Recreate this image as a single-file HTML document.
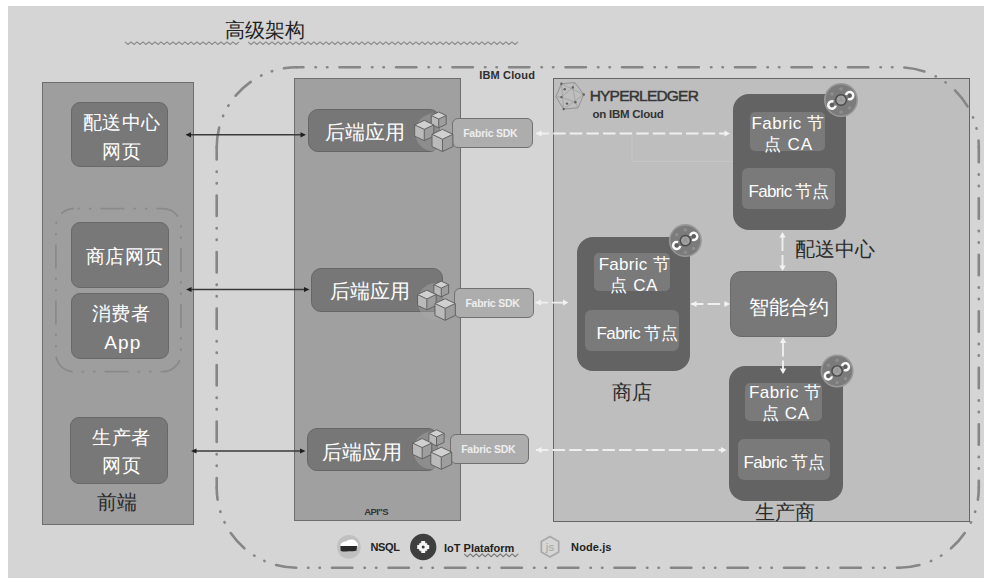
<!DOCTYPE html>
<html><head><meta charset="utf-8">
<style>
*{margin:0;padding:0;box-sizing:border-box}
html,body{width:994px;height:585px;overflow:hidden;background:#fff;font-family:"Liberation Sans",sans-serif}
.a{position:absolute}
.t{position:absolute;white-space:nowrap;line-height:1}
svg{position:absolute;left:0;top:0}
</style></head><body>

<div class="a" style="left:7.5px;top:5.5px;width:976.7px;height:572.3px;background:#d5d5d5;border:0px solid #d5d5d5;border-radius:0px"></div>
<div class="a" style="left:42px;top:82px;width:152px;height:442.5px;background:#9e9e9e;border:1.8px solid #6e6e6e;border-radius:0px"></div>
<div class="a" style="left:294px;top:78px;width:167px;height:443px;background:#a0a0a0;border:1.8px solid #6e6e6e;border-radius:0px"></div>
<div class="a" style="left:553.3px;top:78px;width:416.70000000000005px;height:443.5px;background:#bebebe;border:1.5px solid #666666;border-radius:0px"></div>
<div class="a" style="left:70.5px;top:101.6px;width:97.1px;height:65.9px;background:#787878;border:1.6px solid #686868;border-radius:9px"></div>
<div class="a" style="left:71px;top:222px;width:97.5px;height:66px;background:#787878;border:1.6px solid #686868;border-radius:9px"></div>
<div class="a" style="left:71px;top:293px;width:97.5px;height:66px;background:#787878;border:1.6px solid #686868;border-radius:9px"></div>
<div class="a" style="left:70px;top:416.6px;width:97.6px;height:67.39999999999998px;background:#787878;border:1.6px solid #686868;border-radius:9px"></div>
<div class="a" style="left:307.5px;top:108.6px;width:132.5px;height:43.80000000000001px;background:#777777;border:1.3px solid #666666;border-radius:10px"></div>
<div class="a" style="left:311px;top:268.2px;width:132px;height:43.60000000000002px;background:#777777;border:1.3px solid #666666;border-radius:10px"></div>
<div class="a" style="left:306.5px;top:427.5px;width:131.5px;height:43.10000000000002px;background:#777777;border:1.3px solid #666666;border-radius:10px"></div>
<svg width="994" height="585" viewBox="0 0 994 585"><circle cx="434.1" cy="132.5" r="19" fill="#a8a8a8" opacity="0.45"/><circle cx="436.6" cy="301.8" r="19" fill="#a8a8a8" opacity="0.45"/><circle cx="432.3" cy="450.5" r="19" fill="#a8a8a8" opacity="0.45"/></svg>
<div class="a" style="left:452px;top:118.2px;width:80.70000000000005px;height:29.39999999999999px;background:#adadad;border:1.5px solid #717171;border-radius:6px"></div>
<div class="a" style="left:454.4px;top:288px;width:79.60000000000002px;height:29.600000000000023px;background:#adadad;border:1.5px solid #717171;border-radius:6px"></div>
<div class="a" style="left:449.7px;top:434.4px;width:79.30000000000001px;height:30.0px;background:#adadad;border:1.5px solid #717171;border-radius:6px"></div>
<div class="a" style="left:732.7px;top:94.3px;width:113.29999999999995px;height:135.7px;background:#636363;border:0px solid #636363;border-radius:16px"></div>
<div class="a" style="left:576.5px;top:236.8px;width:113.79999999999995px;height:134.0px;background:#636363;border:0px solid #636363;border-radius:16px"></div>
<div class="a" style="left:728.6px;top:366px;width:114.39999999999998px;height:134.8px;background:#636363;border:0px solid #636363;border-radius:16px"></div>
<div class="a" style="left:749.7px;top:112.1px;width:75.19999999999993px;height:38.900000000000006px;background:#7a7a7a;border:0px solid #7a7a7a;border-radius:5px"></div>
<div class="a" style="left:594.4px;top:252.5px;width:75.5px;height:38.5px;background:#7a7a7a;border:0px solid #7a7a7a;border-radius:5px"></div>
<div class="a" style="left:745.4px;top:382.9px;width:76.70000000000005px;height:38.10000000000002px;background:#7a7a7a;border:0px solid #7a7a7a;border-radius:5px"></div>
<div class="a" style="left:741.6px;top:168px;width:93.10000000000002px;height:41.400000000000006px;background:#7a7a7a;border:0px solid #7a7a7a;border-radius:6px"></div>
<div class="a" style="left:585.3px;top:309.9px;width:94.20000000000005px;height:40.900000000000034px;background:#7a7a7a;border:0px solid #7a7a7a;border-radius:6px"></div>
<div class="a" style="left:737.5px;top:438.9px;width:92.20000000000005px;height:41.400000000000034px;background:#7a7a7a;border:0px solid #7a7a7a;border-radius:6px"></div>
<div class="a" style="left:730.3px;top:270.6px;width:106.5px;height:66.39999999999998px;background:#787878;border:1.3px solid #6a6a6a;border-radius:11px"></div>
<svg width="994" height="585" viewBox="0 0 994 585"><path d="M296.7,67.3 L898.8,67.3" fill="none" stroke="#868686" stroke-width="2.6" stroke-linecap="round" stroke-dasharray="20.4 12.1 0.4 11.1 0.4 12.1" stroke-dashoffset="13.70"/>
<path d="M898.8,67.3 A80,80 0 0 1 978.8,147.3" fill="none" stroke="#868686" stroke-width="2.6" stroke-linecap="round" stroke-dasharray="20.4 12.1 0.4 11.1 0.4 12.1" stroke-dashoffset="50.80"/>
<path d="M978.8,147.3 L978.8,487.79999999999995" fill="none" stroke="#868686" stroke-width="2.6" stroke-linecap="round" stroke-dasharray="20.4 12.1 0.4 11.1 0.4 12.1" stroke-dashoffset="5.50"/>
<path d="M978.8,487.79999999999995 A80,80 0 0 1 898.8,567.8" fill="none" stroke="#868686" stroke-width="2.6" stroke-linecap="round" stroke-dasharray="20.4 12.1 0.4 11.1 0.4 12.1" stroke-dashoffset="8.40"/>
<path d="M898.8,567.8 L296.7,567.8" fill="none" stroke="#868686" stroke-width="2.6" stroke-linecap="round" stroke-dasharray="20.4 12.1 0.4 11.1 0.4 12.1" stroke-dashoffset="18.60"/>
<path d="M296.7,567.8 A80,80 0 0 1 216.7,487.79999999999995" fill="none" stroke="#868686" stroke-width="2.6" stroke-linecap="round" stroke-dasharray="20.4 12.1 0.4 11.1 0.4 12.1" stroke-dashoffset="-0.50"/>
<path d="M216.7,487.79999999999995 L216.7,147.3" fill="none" stroke="#868686" stroke-width="2.6" stroke-linecap="round" stroke-dasharray="20.4 12.1 0.4 11.1 0.4 12.1" stroke-dashoffset="10.70"/>
<path d="M216.7,147.3 A80,80 0 0 1 296.7,67.3" fill="none" stroke="#868686" stroke-width="2.6" stroke-linecap="round" stroke-dasharray="20.4 12.1 0.4 11.1 0.4 12.1" stroke-dashoffset="0.40"/>
<rect x="55.9" y="208.6" width="125" height="163" rx="18" fill="none" stroke="#8a8a8a" stroke-width="1.8" stroke-dasharray="24 9 2.5 9 2.5 9" stroke-dashoffset="29.5"/>
<path d="M125,41.9 L128.0,44.5 L131,41.9 L134.0,44.5 L137,41.9 L140.0,44.5 L143,41.9 L146.0,44.5 L149,41.9 L152.0,44.5 L155,41.9 L158.0,44.5 L161,41.9 L164.0,44.5 L167,41.9 L170.0,44.5 L173,41.9 L176.0,44.5 L179,41.9 L182.0,44.5 L185,41.9 L188.0,44.5 L191,41.9 L194.0,44.5 L197,41.9 L200.0,44.5 L203,41.9 L206.0,44.5 L209,41.9 L212.0,44.5 L215,41.9 L218.0,44.5 L221,41.9 L224.0,44.5 L227,41.9 L230.0,44.5 L233,41.9 L236.0,44.5 L239,41.9" fill="none" stroke="#8c8c8c" stroke-width="1.2" stroke-linejoin="round"/>
<path d="M248,41.9 L251.0,44.5 L254,41.9 L257.0,44.5 L260,41.9 L263.0,44.5 L266,41.9 L269.0,44.5 L272,41.9 L275.0,44.5 L278,41.9 L281.0,44.5 L284,41.9 L287.0,44.5 L290,41.9 L293.0,44.5 L296,41.9 L299.0,44.5 L302,41.9 L305.0,44.5 L308,41.9 L311.0,44.5 L314,41.9 L317.0,44.5 L320,41.9 L323.0,44.5 L326,41.9 L329.0,44.5 L332,41.9 L335.0,44.5 L338,41.9 L341.0,44.5 L344,41.9 L347.0,44.5 L350,41.9 L353.0,44.5 L356,41.9 L359.0,44.5 L362,41.9 L365.0,44.5 L368,41.9 L371.0,44.5 L374,41.9 L377.0,44.5 L380,41.9 L383.0,44.5 L386,41.9 L389.0,44.5 L392,41.9 L395.0,44.5 L398,41.9 L401.0,44.5 L404,41.9 L407.0,44.5 L410,41.9 L413.0,44.5 L416,41.9 L419.0,44.5 L422,41.9 L425.0,44.5 L428,41.9 L431.0,44.5 L434,41.9 L437.0,44.5 L440,41.9 L443.0,44.5 L446,41.9 L449.0,44.5 L452,41.9 L455.0,44.5 L458,41.9 L461.0,44.5 L464,41.9 L467.0,44.5 L470,41.9 L473.0,44.5 L476,41.9 L479.0,44.5 L482,41.9 L485.0,44.5 L488,41.9 L491.0,44.5 L494,41.9 L497.0,44.5 L500,41.9 L503.0,44.5 L506,41.9 L509.0,44.5 L512,41.9 L515.0,44.5 L518,41.9" fill="none" stroke="#8c8c8c" stroke-width="1.2" stroke-linejoin="round"/>
<path d="M464.2,553.9 L467.2,556.6999999999999 L470.2,553.9 L473.2,556.6999999999999 L476.2,553.9 L479.2,556.6999999999999 L482.2,553.9 L485.2,556.6999999999999 L488.2,553.9 L491.2,556.6999999999999 L494.2,553.9 L497.2,556.6999999999999 L500.2,553.9 L503.2,556.6999999999999 L506.2,553.9 L509.2,556.6999999999999 L512.2,553.9 L515.2,556.6999999999999 L518.2,553.9" fill="none" stroke="#7c7c7c" stroke-width="1.2" stroke-linejoin="round"/>
<line x1="189.5" y1="134.8" x2="302" y2="134.8" stroke="#3a3a3a" stroke-width="1.5"/><path d="M185.5,134.8 L191.0,132.20000000000002 L191.0,137.4Z" fill="#1e1e1e"/><path d="M306,134.8 L300.5,132.20000000000002 L300.5,137.4Z" fill="#1e1e1e"/>
<line x1="190" y1="289.5" x2="305.5" y2="289.5" stroke="#3a3a3a" stroke-width="1.5"/><path d="M186,289.5 L191.5,286.9 L191.5,292.1Z" fill="#1e1e1e"/><path d="M309.5,289.5 L304.0,286.9 L304.0,292.1Z" fill="#1e1e1e"/>
<line x1="195" y1="451" x2="301.5" y2="451" stroke="#3a3a3a" stroke-width="1.5"/><path d="M191,451 L196.5,448.4 L196.5,453.6Z" fill="#1e1e1e"/><path d="M305.5,451 L300.0,448.4 L300.0,453.6Z" fill="#1e1e1e"/>
<path d="M632,134 L632,161.5 L733,161.5" fill="none" stroke="#c6c6c6" stroke-width="1"/>
<line x1="536" y1="133.5" x2="726" y2="133.5" stroke="#efefef" stroke-width="1.9" stroke-dasharray="12.5 4.1" stroke-dashoffset="-0.6"/><path d="M730,133.5 L724.5,130.5 L724.5,136.5Z" fill="#f2f2f2"/><path d="M536,133.5 L541.5,130.5 L541.5,136.5Z" fill="#f2f2f2"/>
<line x1="535.5" y1="302.6" x2="564.5" y2="302.6" stroke="#efefef" stroke-width="1.9" stroke-dasharray="12.5 4.1" stroke-dashoffset="0"/><path d="M568.5,302.6 L563.0,299.6 L563.0,305.6Z" fill="#f2f2f2"/><path d="M535.5,302.6 L541.0,299.6 L541.0,305.6Z" fill="#f2f2f2"/>
<line x1="691" y1="304" x2="726" y2="304" stroke="#efefef" stroke-width="1.9" stroke-dasharray="12.5 4.1" stroke-dashoffset="0"/><path d="M730,304 L724.5,301 L724.5,307Z" fill="#f2f2f2"/><path d="M691,304 L696.5,301 L696.5,307Z" fill="#f2f2f2"/>
<line x1="536" y1="450" x2="722.5" y2="450" stroke="#efefef" stroke-width="1.9" stroke-dasharray="12.5 4.1" stroke-dashoffset="0"/><path d="M726.5,450 L721.0,447 L721.0,453Z" fill="#f2f2f2"/><path d="M536,450 L541.5,447 L541.5,453Z" fill="#f2f2f2"/>
<line x1="782.5" y1="235" x2="782.5" y2="268" stroke="#efefef" stroke-width="1.9" stroke-dasharray="16 4"/><path d="M782.5,232 L779.3,237.5 L785.7,237.5Z" fill="#f2f2f2"/><path d="M782.5,271 L779.3,265.5 L785.7,265.5Z" fill="#f2f2f2"/>
<line x1="783" y1="340.5" x2="783" y2="371" stroke="#efefef" stroke-width="1.9" stroke-dasharray="16 4"/><path d="M783,337.5 L779.8,343.0 L786.2,343.0Z" fill="#f2f2f2"/><path d="M783,374 L779.8,368.5 L786.2,368.5Z" fill="#f2f2f2"/>
<path d="M431.22,115.50 L438.70,119.02 L438.70,127.81 L431.22,124.30Z" fill="#bababa"/><path d="M438.70,119.02 L446.18,115.50 L446.18,124.30 L438.70,127.81Z" fill="#9e9e9e"/><path d="M438.70,111.99 L446.18,115.50 L438.70,119.02 L431.22,115.50Z" fill="#d0d0d0"/><path d="M431.22,115.50 L438.70,111.99 L446.18,115.50 L446.18,124.30 L438.70,127.81 L431.22,124.30Z M431.22,115.50 L438.70,119.02 L446.18,115.50 M438.70,119.02 L438.70,127.81" fill="none" stroke="#626262" stroke-width="1" stroke-linejoin="round"/><path d="M414.67,124.86 L424.25,129.37 L424.25,140.65 L414.67,136.14Z" fill="#bababa"/><path d="M424.25,129.37 L433.83,124.86 L433.83,136.14 L424.25,140.65Z" fill="#9e9e9e"/><path d="M424.25,120.35 L433.83,124.86 L424.25,129.37 L414.67,124.86Z" fill="#d0d0d0"/><path d="M414.67,124.86 L424.25,120.35 L433.83,124.86 L433.83,136.14 L424.25,140.65 L414.67,136.14Z M414.67,124.86 L424.25,129.37 L433.83,124.86 M424.25,129.37 L424.25,140.65" fill="none" stroke="#626262" stroke-width="1" stroke-linejoin="round"/><path d="M432.00,134.30 L442.45,139.22 L442.45,151.52 L432.00,146.60Z" fill="#bababa"/><path d="M442.45,139.22 L452.90,134.30 L452.90,146.60 L442.45,151.52Z" fill="#9e9e9e"/><path d="M442.45,129.38 L452.90,134.30 L442.45,139.22 L432.00,134.30Z" fill="#d0d0d0"/><path d="M432.00,134.30 L442.45,129.38 L452.90,134.30 L452.90,146.60 L442.45,151.52 L432.00,146.60Z M432.00,134.30 L442.45,139.22 L452.90,134.30 M442.45,139.22 L442.45,151.52" fill="none" stroke="#626262" stroke-width="1" stroke-linejoin="round"/>
<path d="M433.83,284.64 L441.25,288.13 L441.25,296.85 L433.83,293.36Z" fill="#bababa"/><path d="M441.25,288.13 L448.67,284.64 L448.67,293.36 L441.25,296.85Z" fill="#9e9e9e"/><path d="M441.25,281.15 L448.67,284.64 L441.25,288.13 L433.83,284.64Z" fill="#d0d0d0"/><path d="M433.83,284.64 L441.25,281.15 L448.67,284.64 L448.67,293.36 L441.25,296.85 L433.83,293.36Z M433.83,284.64 L441.25,288.13 L448.67,284.64 M441.25,288.13 L441.25,296.85" fill="none" stroke="#626262" stroke-width="1" stroke-linejoin="round"/><path d="M417.55,294.53 L426.85,298.91 L426.85,309.84 L417.55,305.47Z" fill="#bababa"/><path d="M426.85,298.91 L436.15,294.53 L436.15,305.47 L426.85,309.84Z" fill="#9e9e9e"/><path d="M426.85,290.16 L436.15,294.53 L426.85,298.91 L417.55,294.53Z" fill="#d0d0d0"/><path d="M417.55,294.53 L426.85,290.16 L436.15,294.53 L436.15,305.47 L426.85,309.84 L417.55,305.47Z M417.55,294.53 L426.85,298.91 L436.15,294.53 M426.85,298.91 L426.85,309.84" fill="none" stroke="#626262" stroke-width="1" stroke-linejoin="round"/><path d="M434.97,303.51 L445.15,308.30 L445.15,320.28 L434.97,315.49Z" fill="#bababa"/><path d="M445.15,308.30 L455.33,303.51 L455.33,315.49 L445.15,320.28Z" fill="#9e9e9e"/><path d="M445.15,298.72 L455.33,303.51 L445.15,308.30 L434.97,303.51Z" fill="#d0d0d0"/><path d="M434.97,303.51 L445.15,298.72 L455.33,303.51 L455.33,315.49 L445.15,320.28 L434.97,315.49Z M434.97,303.51 L445.15,308.30 L455.33,303.51 M445.15,308.30 L445.15,320.28" fill="none" stroke="#626262" stroke-width="1" stroke-linejoin="round"/>
<path d="M428.89,433.38 L436.50,436.96 L436.50,445.90 L428.89,442.32Z" fill="#bababa"/><path d="M436.50,436.96 L444.11,433.38 L444.11,442.32 L436.50,445.90Z" fill="#9e9e9e"/><path d="M436.50,429.80 L444.11,433.38 L436.50,436.96 L428.89,433.38Z" fill="#d0d0d0"/><path d="M428.89,433.38 L436.50,429.80 L444.11,433.38 L444.11,442.32 L436.50,445.90 L428.89,442.32Z M428.89,433.38 L436.50,436.96 L444.11,433.38 M436.50,436.96 L436.50,445.90" fill="none" stroke="#626262" stroke-width="1" stroke-linejoin="round"/><path d="M412.56,443.06 L422.15,447.57 L422.15,458.86 L412.56,454.34Z" fill="#bababa"/><path d="M422.15,447.57 L431.74,443.06 L431.74,454.34 L422.15,458.86Z" fill="#9e9e9e"/><path d="M422.15,438.54 L431.74,443.06 L422.15,447.57 L412.56,443.06Z" fill="#d0d0d0"/><path d="M412.56,443.06 L422.15,438.54 L431.74,443.06 L431.74,454.34 L422.15,458.86 L412.56,454.34Z M412.56,443.06 L422.15,447.57 L431.74,443.06 M422.15,447.57 L422.15,458.86" fill="none" stroke="#626262" stroke-width="1" stroke-linejoin="round"/><path d="M430.80,452.10 L441.25,457.02 L441.25,469.32 L430.80,464.40Z" fill="#bababa"/><path d="M441.25,457.02 L451.70,452.10 L451.70,464.40 L441.25,469.32Z" fill="#9e9e9e"/><path d="M441.25,447.18 L451.70,452.10 L441.25,457.02 L430.80,452.10Z" fill="#d0d0d0"/><path d="M430.80,452.10 L441.25,447.18 L451.70,452.10 L451.70,464.40 L441.25,469.32 L430.80,464.40Z M430.80,452.10 L441.25,457.02 L451.70,452.10 M441.25,457.02 L441.25,469.32" fill="none" stroke="#626262" stroke-width="1" stroke-linejoin="round"/>
<circle cx="841" cy="100" r="17" fill="#989898"/><circle cx="841" cy="100" r="15.40" fill="#7b7b7b"/><circle cx="841.0" cy="89.0" r="1.80" fill="#8e8e8e"/><circle cx="832.0" cy="94.0" r="1.80" fill="#8e8e8e"/><circle cx="849.5" cy="108.0" r="1.80" fill="#8e8e8e"/><circle cx="841.0" cy="112.0" r="1.80" fill="#8e8e8e"/><circle cx="841" cy="100" r="5.30" fill="#a0a0a0" stroke="#4a4a4a" stroke-width="1.50"/><path d="M841,100 L841,97.00 M841,100 L838.40,101.50 M841,100 L843.60,101.50" stroke="#8a8a8a" stroke-width="0.80"/><circle cx="849.6" cy="95.6" r="2.04" fill="#5c5c5c"/><path d="M845.97,94.90 A3.70,3.70 0 1 1 848.04,98.96" fill="none" stroke="#fafafa" stroke-width="2.50"/><circle cx="832.0" cy="105.0" r="2.04" fill="#5c5c5c"/><path d="M835.65,105.58 A3.70,3.70 0 1 1 833.44,101.59" fill="none" stroke="#fafafa" stroke-width="2.50"/>
<circle cx="685.4" cy="240.6" r="16.5" fill="#989898"/><circle cx="685.4" cy="240.6" r="14.95" fill="#7b7b7b"/><circle cx="685.4" cy="229.9" r="1.75" fill="#8e8e8e"/><circle cx="676.7" cy="234.8" r="1.75" fill="#8e8e8e"/><circle cx="693.6" cy="248.4" r="1.75" fill="#8e8e8e"/><circle cx="685.4" cy="252.2" r="1.75" fill="#8e8e8e"/><circle cx="685.4" cy="240.6" r="5.14" fill="#a0a0a0" stroke="#4a4a4a" stroke-width="1.46"/><path d="M685.4,240.6 L685.4,237.69 M685.4,240.6 L682.88,242.06 M685.4,240.6 L687.92,242.06" stroke="#8a8a8a" stroke-width="0.78"/><circle cx="693.7" cy="236.3" r="1.98" fill="#5c5c5c"/><path d="M690.22,235.65 A3.59,3.59 0 1 1 692.23,239.59" fill="none" stroke="#fafafa" stroke-width="2.43"/><circle cx="676.7" cy="245.5" r="1.98" fill="#5c5c5c"/><path d="M680.21,246.01 A3.59,3.59 0 1 1 678.06,242.15" fill="none" stroke="#fafafa" stroke-width="2.43"/>
<circle cx="837.1" cy="371" r="16.5" fill="#989898"/><circle cx="837.1" cy="371" r="14.95" fill="#7b7b7b"/><circle cx="837.1" cy="360.3" r="1.75" fill="#8e8e8e"/><circle cx="828.4" cy="365.2" r="1.75" fill="#8e8e8e"/><circle cx="845.4" cy="378.8" r="1.75" fill="#8e8e8e"/><circle cx="837.1" cy="382.6" r="1.75" fill="#8e8e8e"/><circle cx="837.1" cy="371" r="5.14" fill="#a0a0a0" stroke="#4a4a4a" stroke-width="1.46"/><path d="M837.1,371 L837.1,368.09 M837.1,371 L834.58,372.46 M837.1,371 L839.62,372.46" stroke="#8a8a8a" stroke-width="0.78"/><circle cx="845.4" cy="366.7" r="1.98" fill="#5c5c5c"/><path d="M841.92,366.05 A3.59,3.59 0 1 1 843.93,369.99" fill="none" stroke="#fafafa" stroke-width="2.43"/><circle cx="828.4" cy="375.9" r="1.98" fill="#5c5c5c"/><path d="M831.91,376.41 A3.59,3.59 0 1 1 829.76,372.55" fill="none" stroke="#fafafa" stroke-width="2.43"/>
<polygon points="561.4,83.8 574.7,82.5 583.8,94.5 578.0,107.8 563.7,109.1 555.9,96.8" fill="none" stroke="#8c8c8c" stroke-width="0.9"/>
<polygon points="561.4,83.8 583.8,94.5 563.7,109.1" fill="none" stroke="#999" stroke-width="0.7"/>
<polygon points="572.8,87.4 575.4,102.3 561.4,97.1" fill="none" stroke="#999" stroke-width="0.7"/>
<path d="M574.7,82.5 L572.8,87.4 M578,107.8 L575.4,102.3 M555.9,96.8 L561.4,97.1" stroke="#999" stroke-width="0.7"/>
<circle cx="561.4" cy="83.8" r="1.2" fill="#5e5e5e"/>
<circle cx="583.8" cy="94.5" r="1.2" fill="#5e5e5e"/>
<circle cx="563.7" cy="109.1" r="1.2" fill="#5e5e5e"/>
<circle cx="572.8" cy="87.4" r="1.2" fill="#5e5e5e"/>
<circle cx="575.4" cy="102.3" r="1.2" fill="#5e5e5e"/>
<circle cx="561.4" cy="97.1" r="1.2" fill="#5e5e5e"/>
<circle cx="564.7" cy="89.3" r="1.2" fill="#5e5e5e"/>
<circle cx="567" cy="103.6" r="1.2" fill="#5e5e5e"/>
<circle cx="348.9" cy="546.9" r="11.8" fill="#c0c0c0"/>
<path d="M340.4,546.2 C340.6,543.2 343,541.6 346,541.6 C348,539 354,538.6 356,541.4 C357.6,542.4 358.2,544.2 357.8,546.2 Z" fill="#fff"/>
<path d="M340.4,545.9 L357,545.9 L356.6,550.6 C354,552 351,551 348.5,551.2 C345.5,551.6 343,552 340.6,550.8 Z" fill="#2a2a2a"/>
<circle cx="423.2" cy="547" r="13.2" fill="#3e3e3e"/>
<rect x="421.2" y="541.0" width="4" height="3" fill="#f4f4f4" transform="rotate(0 423.2 547)"/><rect x="421.2" y="541.0" width="4" height="3" fill="#f4f4f4" transform="rotate(90 423.2 547)"/><rect x="421.2" y="541.0" width="4" height="3" fill="#f4f4f4" transform="rotate(180 423.2 547)"/><rect x="421.2" y="541.0" width="4" height="3" fill="#f4f4f4" transform="rotate(270 423.2 547)"/><rect x="422.0" y="541.8" width="2.4" height="2" fill="#e0e0e0" transform="rotate(45 423.2 547)"/><rect x="422.0" y="541.8" width="2.4" height="2" fill="#e0e0e0" transform="rotate(135 423.2 547)"/><rect x="422.0" y="541.8" width="2.4" height="2" fill="#e0e0e0" transform="rotate(225 423.2 547)"/><rect x="422.0" y="541.8" width="2.4" height="2" fill="#e0e0e0" transform="rotate(315 423.2 547)"/>
<circle cx="423.2" cy="547" r="4.3" fill="#f4f4f4"/><circle cx="423.2" cy="547" r="1.5" fill="#3a3a3a"/>
<polygon points="550.0,536.4 541.3,541.6 541.3,551.9 550.0,557.0 558.7,551.9 558.7,541.6" fill="none" stroke="#a8a8a8" stroke-width="1.7"/>
<text x="550" y="550.5" text-anchor="middle" font-family="Liberation Sans" font-size="11.5" fill="#a6a6a6">js</text></svg>
<div class="t" id="title" style="left:224.50px;top:20.50px;font-size:19.80px;color:#222;">高级架构</div>
<div class="t" id="lb1a" style="left:82.95px;top:113.45px;font-size:19.00px;color:#fff;letter-spacing:0.50px;">配送中心</div>
<div class="t" id="lb1b" style="left:102.25px;top:142.45px;font-size:19.00px;color:#fff;letter-spacing:0.50px;">网页</div>
<div class="t" id="lb2" style="left:85.85px;top:247.40px;font-size:19.00px;color:#fff;letter-spacing:0.50px;">商店网页</div>
<div class="t" id="lb3a" style="left:91.70px;top:303.80px;font-size:19.00px;color:#fff;letter-spacing:0.50px;">消费者</div>
<div class="t" id="lb3b" style="left:104.15px;top:333.00px;font-size:19.00px;color:#fff;letter-spacing:1.20px;">App</div>
<div class="t" id="lb4a" style="left:92.20px;top:428.00px;font-size:19.00px;color:#fff;letter-spacing:0.50px;">生产者</div>
<div class="t" id="lb4b" style="left:102.05px;top:456.35px;font-size:19.00px;color:#fff;letter-spacing:0.50px;">网页</div>
<div class="t" id="qd" style="left:97.00px;top:491.80px;font-size:20.00px;color:#2a2a2a;font-family:'Liberation Serif',serif;">前端</div>
<div class="t" id="be1" style="left:324.80px;top:121.75px;font-size:20.00px;color:#fff;">后端应用</div>
<div class="t" id="be2" style="left:330.40px;top:281.15px;font-size:20.00px;color:#fff;">后端应用</div>
<div class="t" id="be3" style="left:322.35px;top:441.95px;font-size:20.00px;color:#fff;">后端应用</div>
<div class="t" id="sdk1" style="left:463.20px;top:127.70px;font-size:10.50px;color:#eeeeee;font-weight:bold;letter-spacing:-0.24px;">Fabric SDK</div>
<div class="t" id="sdk2" style="left:465.40px;top:298.10px;font-size:10.50px;color:#eeeeee;font-weight:bold;letter-spacing:-0.24px;">Fabric SDK</div>
<div class="t" id="sdk3" style="left:461.20px;top:444.30px;font-size:10.50px;color:#eeeeee;font-weight:bold;letter-spacing:-0.24px;">Fabric SDK</div>
<div class="t" id="apis" style="left:364.20px;top:506.50px;font-size:9.50px;color:#333;font-weight:bold;letter-spacing:-0.55px;">API"S</div>
<div class="t" id="ibmc" style="left:479.20px;top:69.65px;font-size:11.00px;color:#2e2e2e;font-weight:bold;letter-spacing:0.16px;">IBM Cloud</div>
<div class="t" id="hl" style="left:589.70px;top:88.10px;font-size:15.50px;color:#363636;font-weight:normal;letter-spacing:-0.80px;-webkit-text-stroke:0.45px #363636;">HYPERLEDGER</div>
<div class="t" id="onibm" style="left:592.60px;top:109.35px;font-size:11.50px;color:#333;font-weight:bold;letter-spacing:-0.27px;">on IBM Cloud</div>
<div class="t" id="nsql" style="left:370.50px;top:542.45px;font-size:11.00px;color:#222;font-weight:bold;letter-spacing:-0.40px;">NSQL</div>
<div class="t" id="iot" style="left:444.00px;top:542.55px;font-size:11.00px;color:#222;font-weight:bold;">IoT Plataform</div>
<div class="t" id="node" style="left:571.10px;top:541.50px;font-size:11.00px;color:#222;font-weight:bold;letter-spacing:0.10px;">Node.js</div>
<div class="t" id="znhy" style="left:749.10px;top:296.65px;font-size:20.00px;color:#fff;">智能合约</div>
<div class="t" id="lps" style="left:795.15px;top:239.05px;font-size:20.00px;color:#2a2a2a;font-family:'Liberation Serif',serif;">配送中心</div>
<div class="t" id="lsd" style="left:611.75px;top:382.15px;font-size:20.00px;color:#2a2a2a;font-family:'Liberation Serif',serif;">商店</div>
<div class="t" id="lscs" style="left:754.50px;top:502.00px;font-size:20.00px;color:#2a2a2a;font-family:'Liberation Serif',serif;">生产商</div>
<div class="t" id="ca1a" style="left:751.45px;top:115.05px;font-size:17.00px;color:#fff;letter-spacing:0.51px;">Fabric 节</div>
<div class="t" id="ca1b" style="left:764.00px;top:136.10px;font-size:17.00px;color:#fff;letter-spacing:0.93px;">点 CA</div>
<div class="t" id="jd1" style="left:748.50px;top:182.50px;font-size:17.00px;color:#fff;letter-spacing:-0.72px;">Fabric 节点</div>
<div class="t" id="ca2a" style="left:598.65px;top:255.50px;font-size:17.00px;color:#fff;letter-spacing:0.30px;">Fabric 节</div>
<div class="t" id="ca2b" style="left:610.25px;top:277.40px;font-size:17.00px;color:#fff;letter-spacing:0.60px;">点 CA</div>
<div class="t" id="jd2" style="left:596.55px;top:324.95px;font-size:17.00px;color:#fff;letter-spacing:-0.60px;">Fabric 节点</div>
<div class="t" id="ca3a" style="left:748.90px;top:384.30px;font-size:17.00px;color:#fff;letter-spacing:0.47px;">Fabric 节</div>
<div class="t" id="ca3b" style="left:761.85px;top:405.30px;font-size:17.00px;color:#fff;letter-spacing:0.60px;">点 CA</div>
<div class="t" id="jd3" style="left:743.40px;top:453.50px;font-size:17.00px;color:#fff;letter-spacing:-0.60px;">Fabric 节点</div>
</body></html>
